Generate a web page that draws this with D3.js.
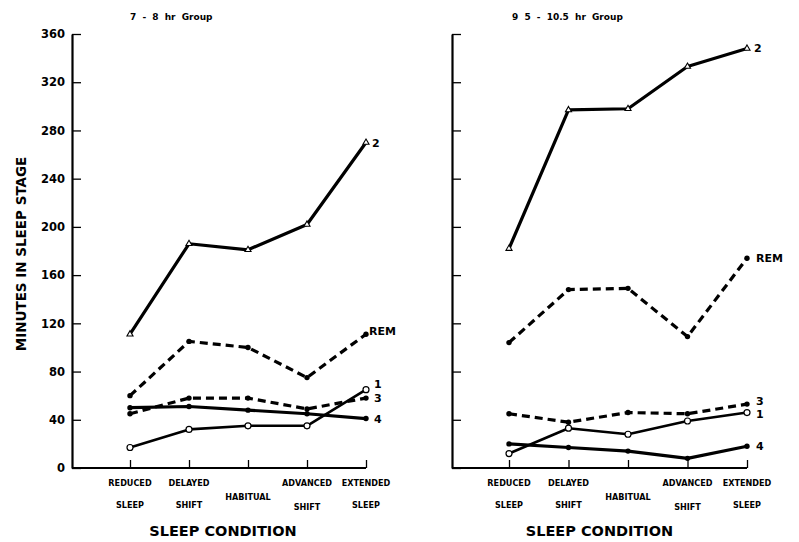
<!DOCTYPE html>
<html>
<head>
<meta charset="utf-8">
<script src="https://cdn.jsdelivr.net/npm/d3@7"></script>
<style>
  html, body { margin: 0; padding: 0; background: #fff; }
  svg { display: block; }
  text { fill: #000; }
</style>
</head>
<body>
<svg id="chart" width="799" height="542"></svg>
<script>
// Sleep conditions along the x axis
const conditions = ["Reduced Sleep", "Delayed Shift", "Habitual", "Advanced Shift", "Extended Sleep"];
const conditionLines = [["REDUCED", "SLEEP"], ["DELAYED", "SHIFT"], ["HABITUAL"], ["ADVANCED", "SHIFT"], ["EXTENDED", "SLEEP"]];
const yTicks = [0, 40, 80, 120, 160, 200, 240, 280, 320, 360];

// 7 - 8 hr group: minutes in each sleep stage
const short1   = [17, 32, 35, 35, 65];
const short2   = [111, 186, 181, 202, 270];
const short3   = [45, 58, 58, 49, 58];
const short4   = [50, 51, 48, 45, 41];
const shortREM = [60, 105, 100, 75, 111];

// 9.5 - 10.5 hr group: minutes in each sleep stage
const long1   = [12, 33, 28, 39, 46];
const long2   = [182, 297, 298, 333, 348];
const long3   = [45, 38, 46, 45, 53];
const long4   = [20, 17, 14, 8, 18];
const longREM = [104, 148, 149, 109, 174];

const svg = d3.select("#chart");
const y = d3.scaleLinear().domain([0, 360]).range([468, 34]);

// line style per stage: dashed or solid, marker kind
const stageStyle = {
  "1":   { dash: null,  marker: "circleOpen", width: 2.6 },
  "2":   { dash: null,  marker: "triOpen",    width: 3.2 },
  "3":   { dash: "8,5", marker: "filled",     width: 3.2 },
  "4":   { dash: null,  marker: "filled",     width: 3.2 },
  "REM": { dash: "8,5", marker: "filled",     width: 3.2 }
};

function panel(opts) {
  const g = svg.append("g");
  const x = d3.scalePoint().domain(conditions).range(opts.xRange);

  // y axis with inward ticks
  const yAxis = d3.axisLeft(y).tickValues(yTicks).tickSizeInner(-9).tickSizeOuter(0).tickPadding(7);
  if (!opts.yLabels) yAxis.tickFormat("");
  const ya = g.append("g").attr("transform", `translate(${opts.axisX},0)`).call(yAxis);
  ya.select(".domain").attr("stroke", "#000").attr("stroke-width", 2.2);
  ya.selectAll(".tick line").attr("stroke", "#000").attr("stroke-width", 1.3);
  ya.selectAll(".tick text")
    .attr("font-family", "'DejaVu Sans', sans-serif")
    .attr("font-weight", "bold").attr("font-size", 11.5);

  // x axis baseline and upward ticks
  g.append("line")
    .attr("x1", opts.axisX).attr("x2", x(conditions[conditions.length - 1]))
    .attr("y1", y(0)).attr("y2", y(0))
    .attr("stroke", "#000").attr("stroke-width", 2.2);
  const xAxis = d3.axisBottom(x).tickSizeInner(-8).tickSizeOuter(0).tickFormat("");
  const xa = g.append("g").attr("transform", `translate(0,${y(0)})`).call(xAxis);
  xa.select(".domain").remove();
  xa.selectAll(".tick line").attr("stroke", "#000").attr("stroke-width", 1.3);

  // category labels
  conditions.forEach((c, i) => {
    const lines = conditionLines[i];
    const t = g.append("text")
      .attr("text-anchor", "middle")
      .attr("font-family", "'DejaVu Sans Condensed', 'DejaVu Sans', sans-serif")
      .attr("font-weight", "bold")
      .attr("font-size", 9);
    if (lines.length === 1) {
      t.append("tspan").attr("x", x(c)).attr("y", 500).text(lines[0]);
    } else {
      t.append("tspan").attr("x", x(c)).attr("y", 486).text(lines[0]);
      t.append("tspan").attr("x", x(c)).attr("y", i === 3 ? 510 : 508).text(lines[1]);
    }
  });

  // group title
  g.append("text")
    .attr("x", opts.titleX).attr("y", 20)
    .attr("font-family", "'DejaVu Sans', sans-serif")
    .attr("font-weight", "bold").attr("font-size", 9)
    .attr("word-spacing", 3)
    .text(opts.title);

  // x axis title
  g.append("text")
    .attr("x", (opts.axisX + x(conditions[4])) / 2 + opts.condShift).attr("y", 536)
    .attr("text-anchor", "middle")
    .attr("font-family", "'DejaVu Sans', sans-serif")
    .attr("font-weight", "bold").attr("font-size", 14.5)
    .text("SLEEP CONDITION");

  const line = d3.line().x((d, i) => x(conditions[i])).y(d => y(d));

  opts.series.forEach(s => {
    const st = stageStyle[s.name];
    g.append("path")
      .datum(s.values)
      .attr("d", line)
      .attr("fill", "none")
      .attr("stroke", "#000")
      .attr("stroke-width", st.width)
      .attr("stroke-dasharray", st.dash)
      .attr("stroke-linejoin", "round");

    s.values.forEach((v, i) => {
      const cx = x(conditions[i]), cy = y(v);
      if (st.marker === "circleOpen") {
        g.append("circle").attr("cx", cx).attr("cy", cy).attr("r", 3)
          .attr("fill", "#fff").attr("stroke", "#000").attr("stroke-width", 1.2);
      } else if (st.marker === "triOpen") {
        g.append("path")
          .attr("d", d3.symbol(d3.symbolTriangle, 16)())
          .attr("transform", `translate(${cx},${cy})`)
          .attr("fill", "#fff").attr("stroke", "#000").attr("stroke-width", 1.1);
      } else {
        g.append("circle").attr("cx", cx).attr("cy", cy).attr("r", 2.7).attr("fill", "#000");
      }
    });

    g.append("text")
      .attr("x", x(conditions[4]) + s.dx)
      .attr("y", y(s.values[4]) + s.dy)
      .attr("font-family", "'DejaVu Sans', sans-serif")
      .attr("font-weight", "bold").attr("font-size", 11)
      .text(s.name);
  });
}

panel({
  axisX: 72, xRange: [130, 366], yLabels: true,
  title: "7 - 8 hr Group", titleX: 130, condShift: 4,
  series: [
    { name: "2",   values: short2,   dx: 6, dy: 4 },
    { name: "REM", values: shortREM, dx: 3, dy: 1 },
    { name: "1",   values: short1,   dx: 8, dy: -2 },
    { name: "3",   values: short3,   dx: 8, dy: 4 },
    { name: "4",   values: short4,   dx: 8, dy: 4 }
  ]
});

panel({
  axisX: 452, xRange: [509, 747], yLabels: false,
  title: "9 5 - 10.5 hr Group", titleX: 512, condShift: 0,
  series: [
    { name: "2",   values: long2,   dx: 7, dy: 4 },
    { name: "REM", values: longREM, dx: 9, dy: 4 },
    { name: "3",   values: long3,   dx: 9, dy: 1 },
    { name: "1",   values: long1,   dx: 9, dy: 5 },
    { name: "4",   values: long4,   dx: 9, dy: 4 }
  ]
});

// shared y axis title
svg.append("text")
  .attr("transform", "translate(26,254) rotate(-90)")
  .attr("text-anchor", "middle")
  .attr("font-family", "'DejaVu Sans', sans-serif")
  .attr("font-weight", "bold").attr("font-size", 13.5)
  .text("MINUTES IN SLEEP STAGE");
</script>
</body>
</html>
